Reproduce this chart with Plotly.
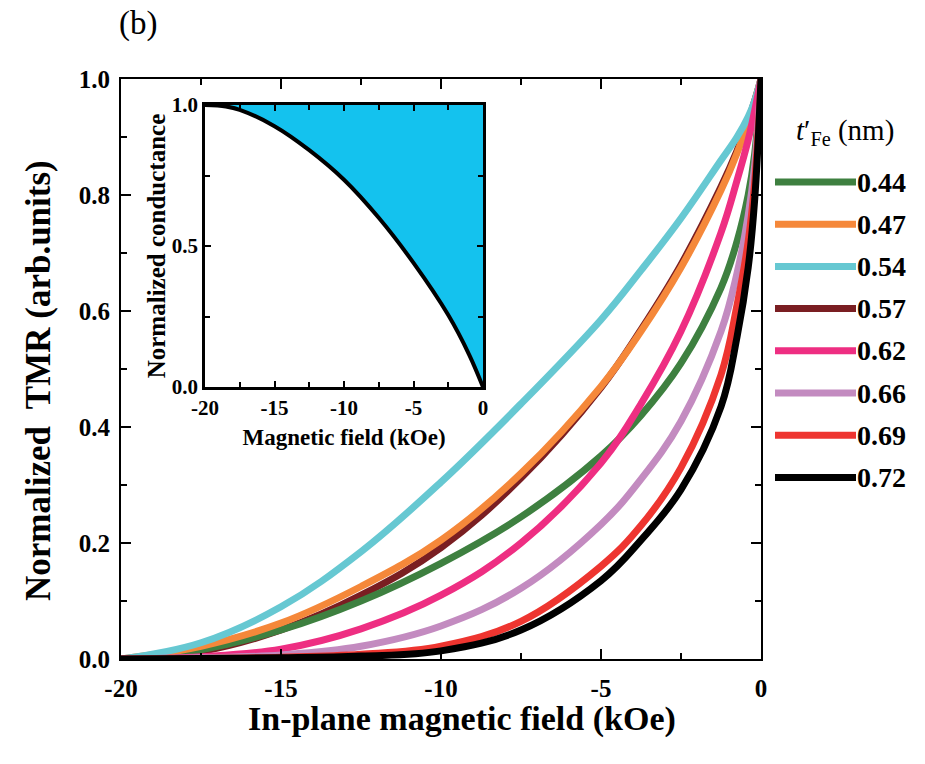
import plotly.graph_objects as go

# In-plane field sweep (kOe)
field = [-20, -17.5, -15, -12.5, -10, -7.5, -5, -3.75, -2.5, -1.25, -0.75, -0.4, -0.2, 0]

# Normalized TMR for each Fe thickness t'Fe (nm)
thickness = ["0.44", "0.47", "0.54", "0.57", "0.62", "0.66", "0.69", "0.72"]
tmr_044 = [0, 0.016, 0.050, 0.100, 0.165, 0.245, 0.350, 0.420, 0.510, 0.640, 0.720, 0.800, 0.870, 1.0]
tmr_047 = [0, 0.022, 0.062, 0.125, 0.205, 0.320, 0.470, 0.565, 0.675, 0.808, 0.872, 0.926, 0.960, 1.0]
tmr_054 = [0, 0.028, 0.090, 0.185, 0.305, 0.440, 0.585, 0.670, 0.760, 0.860, 0.900, 0.935, 0.962, 1.0]
tmr_057 = [0, 0.013, 0.050, 0.110, 0.192, 0.312, 0.468, 0.568, 0.680, 0.814, 0.876, 0.928, 0.962, 1.0]
tmr_062 = [0, 0.004, 0.017, 0.052, 0.110, 0.200, 0.338, 0.440, 0.565, 0.735, 0.825, 0.895, 0.945, 1.0]
tmr_066 = [0, 0.002, 0.007, 0.022, 0.057, 0.122, 0.232, 0.310, 0.410, 0.565, 0.665, 0.765, 0.850, 1.0]
tmr_069 = [0, 0.001, 0.003, 0.008, 0.022, 0.065, 0.160, 0.230, 0.330, 0.490, 0.610, 0.720, 0.820, 1.0]
tmr_072 = [0, 0.001, 0.002, 0.005, 0.014, 0.050, 0.135, 0.205, 0.292, 0.435, 0.555, 0.675, 0.790, 1.0]

colors = ["#3E8040", "#F5883A", "#66C8D2", "#7A1E22",
          "#EE2E82", "#C38BC0", "#EE3530", "#000000"]
series = [tmr_044, tmr_047, tmr_054, tmr_057, tmr_062, tmr_066, tmr_069, tmr_072]

# Inset: normalized conductance vs field
inset_field = [-20, -18.5, -17.5, -15, -12.5, -10, -7.5, -5, -2.5, -1, 0]
inset_cond = [1.0, 0.995, 0.983, 0.925, 0.840, 0.735, 0.600, 0.440, 0.255, 0.115, 0.0]

# tick labels (plain hyphen minus)
main_xticks = [-20, -15, -10, -5, 0]
main_xlabels = ["-20", "-15", "-10", "-5", "0"]
main_yticks = [0.0, 0.2, 0.4, 0.6, 0.8, 1.0]
inset_yticks = [0.0, 0.5, 1.0]

FONT = "Liberation Serif"

fig = go.Figure()

# draw order: brown beneath orange
draw_order = [3, 0, 1, 2, 4, 5, 6, 7]
for i in draw_order:
    fig.add_trace(go.Scatter(
        x=field, y=series[i], mode="lines",
        line=dict(color=colors[i], width=7, shape="spline", smoothing=1.1),
        showlegend=False, xaxis="x", yaxis="y"))

# inset: filled area between curve and unity
fig.add_trace(go.Scatter(
    x=[inset_field[0], inset_field[-1]], y=[1, 1], mode="lines",
    line=dict(width=0, color="rgba(0,0,0,0)"), showlegend=False,
    xaxis="x2", yaxis="y2"))
fig.add_trace(go.Scatter(
    x=inset_field, y=inset_cond, mode="lines",
    line=dict(color="black", width=4, shape="spline", smoothing=1.0),
    fill="tonexty", fillcolor="#14C2EE",
    showlegend=False, xaxis="x2", yaxis="y2"))

# plot-area geometry in pixels (for paper-coordinate placement)
L, R, T, B = 121, 761, 79, 659
W, H = R - L, B - T


def px(xp):
    return (xp - L) / W


def py(yp):
    return (B - yp) / H


axis_common = dict(
    showline=True, linecolor="black", linewidth=2, mirror="ticks",
    ticks="inside", tickcolor="black", tickwidth=2, showgrid=False,
    zeroline=False,
)

fig.update_layout(
    width=925, height=764,
    margin=dict(l=L, r=925 - R, t=T, b=764 - B),
    paper_bgcolor="white", plot_bgcolor="white",
    xaxis=dict(
        range=[-20, 0], tickvals=main_xticks, ticktext=main_xlabels, ticklen=10,
        minor=dict(dtick=2.5, ticks="inside", ticklen=6, tickwidth=2, tickcolor="black"),
        tickfont=dict(family=FONT, size=25, color="black", weight="bold"),
        ticklabelstandoff=6,
        **axis_common),
    yaxis=dict(
        range=[0, 1], tickvals=main_yticks, tickformat=".1f", ticklen=10,
        minor=dict(dtick=0.1, ticks="inside", ticklen=6, tickwidth=2, tickcolor="black"),
        tickfont=dict(family=FONT, size=25, color="black", weight="bold"),
        ticklabelstandoff=4,
        **axis_common),
    xaxis2=dict(
        domain=[px(205), px(483)], anchor="y2", range=[-20, 0],
        tickvals=main_xticks, ticktext=main_xlabels, ticklen=6,
        minor=dict(dtick=2.5, ticks="inside", ticklen=5, tickwidth=1.5, tickcolor="black"),
        tickfont=dict(family=FONT, size=21, color="black", weight="bold"),
        title=dict(text="<b>Magnetic field (kOe)</b>",
                   font=dict(family=FONT, size=23, color="black"), standoff=10),
        **{**axis_common, "linewidth": 2.5}),
    yaxis2=dict(
        domain=[py(387), py(105)], anchor="x2", range=[0, 1],
        tickvals=inset_yticks, tickformat=".1f", ticklen=6,
        minor=dict(dtick=0.25, ticks="inside", ticklen=5, tickwidth=1.5, tickcolor="black"),
        tickfont=dict(family=FONT, size=21, color="black", weight="bold"),
        title=dict(text="<b>Normalized conductance</b>",
                   font=dict(family=FONT, size=25, color="black"), standoff=0),
        **{**axis_common, "linewidth": 2.5}),
)

# main axis titles
fig.add_annotation(x=px(462), y=py(719), xref="paper", yref="paper",
                   xanchor="center", yanchor="middle", showarrow=False,
                   text="<b>In-plane magnetic field (kOe)</b>",
                   font=dict(family=FONT, size=34, color="black"))
fig.add_annotation(x=px(38), y=py(381), xref="paper", yref="paper",
                   xanchor="center", yanchor="middle", showarrow=False,
                   textangle=-90,
                   text="<b>Normalized  TMR (arb.units)</b>",
                   font=dict(family=FONT, size=35, color="black"))

# panel label
fig.add_annotation(x=px(138), y=py(24), xref="paper", yref="paper",
                   xanchor="center", yanchor="middle",
                   text="(b)", showarrow=False,
                   font=dict(family=FONT, size=33, color="black"))

# legend title and entries
fig.add_annotation(x=px(845), y=py(132), xref="paper", yref="paper",
                   xanchor="center", yanchor="middle",
                   text="<i>t</i>′<sub>Fe</sub> (nm)", showarrow=False,
                   font=dict(family=FONT, size=29, color="black"))
for i, label in enumerate(thickness):
    row = 182 + 42.2 * i
    fig.add_shape(type="line", xref="paper", yref="paper",
                  x0=px(775), x1=px(856), y0=py(row), y1=py(row),
                  line=dict(color=colors[i], width=7))
    fig.add_annotation(x=px(855), y=py(row), xref="paper", yref="paper",
                       xanchor="left", yanchor="middle",
                       text=f"<b>{label}</b>", showarrow=False,
                       font=dict(family=FONT, size=28, color="black"))

fig.write_html("out.html")
